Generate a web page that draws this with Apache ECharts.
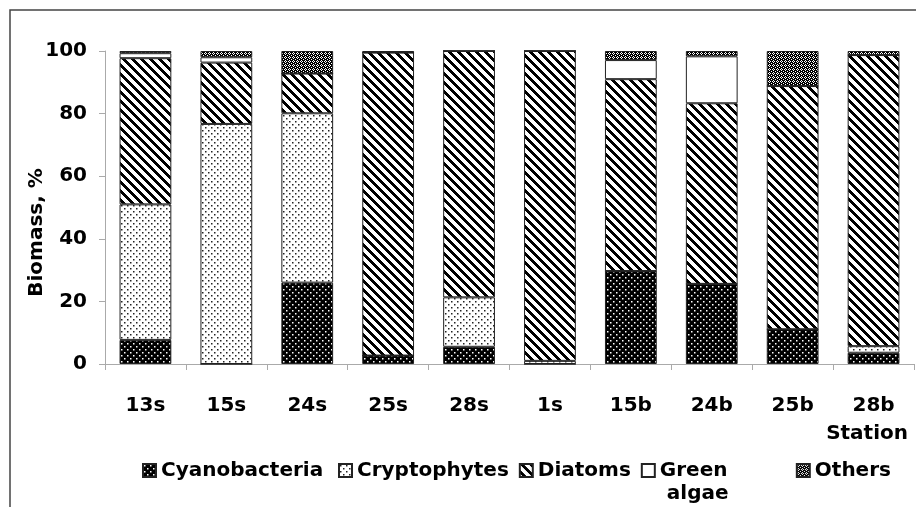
<!DOCTYPE html>
<html>
<head>
<meta charset="utf-8">
<script src="https://cdn.jsdelivr.net/npm/echarts@6/dist/echarts.min.js"></script>
<style>
html,body{margin:0;padding:0;background:#fff;}
#chart{width:916px;height:507px;}
</style>
</head>
<body>
<div id="chart"></div>
<script>
// ---- data ----
const categories = ['13s','15s','24s','25s','28s','1s','15b','24b','25b','28b'];
const cyanobacteria = [7.7, 0, 26.0, 2.7, 5.5, 0, 29.7, 25.6, 11.1, 3.6];
const cryptophytes  = [43.3, 76.7, 54.1, 0, 15.8, 1.0, 0, 0, 0, 2.1];
const diatoms       = [46.7, 19.6, 12.7, 96.8, 78.7, 99.0, 61.3, 57.7, 77.7, 93.0];
const greenAlgae    = [1.6, 1.7, 0, 0, 0, 0, 6.1, 15.0, 0, 0];
const others        = [0.7, 2.0, 7.2, 0.5, 0, 0, 2.9, 1.7, 11.2, 1.3];
const seriesNames = ['Cyanobacteria','Cryptophytes','Diatoms','Green algae','Others'];
const xAxisTitle = 'Station';
const yAxisTitle = 'Biomass, %';

// ---- patterns ----
function makePattern(size, bg, draw) {
  const c = document.createElement('canvas');
  c.width = size; c.height = size;
  const ctx = c.getContext('2d');
  ctx.fillStyle = bg; ctx.fillRect(0, 0, size, size);
  draw(ctx, size);
  return { image: c, repeat: 'repeat' };
}
const patCyano = makePattern(6, '#000', (ctx) => {
  ctx.fillStyle = '#fff';
  ctx.fillRect(1, 1, 1.5, 1.5);
  ctx.fillRect(4, 4, 1.5, 1.5);
});
const patCrypto = makePattern(6, '#fff', (ctx) => {
  ctx.fillStyle = '#222';
  ctx.fillRect(1, 1, 1.5, 1.5);
  ctx.fillRect(4, 4, 1.5, 1.5);
});
const patDiatoms = makePattern(9, '#fff', (ctx, s) => {
  ctx.fillStyle = '#000';
  for (let y = 0; y < s; y++) for (let x = 0; x < s; x++) {
    if (((x - y) % s + s) % s < 4) ctx.fillRect(x, y, 1, 1);
  }
});
const patOthers = makePattern(4, '#000', (ctx) => {
  ctx.fillStyle = '#fff';
  ctx.fillRect(1, 0, 1, 1);
  ctx.fillRect(0, 1, 1, 1);
  ctx.fillRect(2, 1, 1, 1);
  ctx.fillRect(1, 2, 1, 1);
  ctx.fillRect(3, 3, 1, 1);
});
const colors = [patCyano, patCrypto, patDiatoms, '#fff', patOthers];
const dataSets = [cyanobacteria, cryptophytes, diatoms, greenAlgae, others];

const FONT = 'DejaVu Sans';
const FS = 20;
const chart = echarts.init(document.getElementById('chart'), null, {renderer: 'canvas'});

const series = seriesNames.map((name, i) => ({
  name: name,
  type: 'bar',
  stack: 'total',
  barWidth: '64%',
  data: dataSets[i],
  itemStyle: { color: colors[i], borderColor: '#222', borderWidth: 1 },
  emphasis: { disabled: true }
}));

const legendWidths = [167, 150, 90, 126, 70];

chart.setOption({
  animation: false,
  backgroundColor: '#fff',
  graphic: [{
    type: 'rect',
    shape: { x: 10, y: 10, width: 1000, height: 1000 },
    style: { fill: 'none', stroke: '#444', lineWidth: 1.5 },
    silent: true
  }],
  grid: { left: 105, right: 2, top: 51, bottom: 143, containLabel: false },
  legend: {
    left: 142,
    top: 436,
    padding: 0,
    icon: 'rect',
    itemWidth: 13,
    itemHeight: 13,
    itemGap: 10,
    textStyle: { fontFamily: FONT, fontWeight: 'bold', fontSize: FS, color: '#000', lineHeight: 23 },
    data: seriesNames.map((n, i) => ({ name: n, textStyle: { width: legendWidths[i] } })),
    formatter: function (n) { return n === 'Green algae' ? '\u00a0\nGreen\n algae' : n; }
  },
  xAxis: {
    type: 'category',
    data: categories,
    name: xAxisTitle,
    nameLocation: 'end',
    nameGap: -6,
    nameTextStyle: { fontFamily: FONT, fontWeight: 'bold', fontSize: FS, color: '#000', align: 'right', verticalAlign: 'top', padding: [60, 0, 0, 0] },
    axisLine: { lineStyle: { color: '#aaa', width: 1 } },
    axisTick: { show: true, length: 6, lineStyle: { color: '#aaa' } },
    axisLabel: { margin: 32, fontFamily: FONT, fontWeight: 'bold', fontSize: FS, color: '#000' }
  },
  yAxis: {
    type: 'value',
    min: 0, max: 100, interval: 20,
    name: yAxisTitle,
    nameLocation: 'middle',
    nameGap: 58,
    nameMoveOverlap: false,
    nameRotate: 90,
    nameTextStyle: { fontFamily: FONT, fontWeight: 'bold', fontSize: FS, color: '#000', padding: [0, 50, 0, 0] },
    axisLine: { show: true, lineStyle: { color: '#aaa', width: 1 } },
    axisTick: { show: true, length: 6, lineStyle: { color: '#aaa' } },
    splitLine: { show: false },
    axisLabel: { margin: 18, fontFamily: FONT, fontWeight: 'bold', fontSize: FS, color: '#000' }
  },
  series: series
});
</script>
</body>
</html>
